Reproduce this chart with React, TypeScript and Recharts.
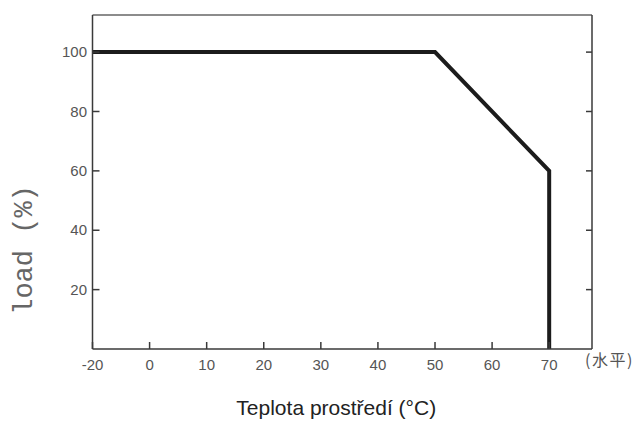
import React from 'react';
import { LineChart, Line, XAxis, YAxis, Label } from 'recharts';

// derating curve: ambient temperature (°C) vs. load (%)
const temperatures = [-20, 50, 70, 70];
const loads = [100, 100, 60, 0];

const xTickTemps = [-20, 0, 10, 20, 30, 40, 50, 60, 70];
const yTicks = [20, 40, 60, 80, 100];

// the axis squeezes -20..0 into one 10-degree step
const toPos = (t: number) => (t < 0 ? t / 2 : t);
const fromPos = (p: number) => (p < 0 ? p * 2 : p);

const data = temperatures.map((t, i) => ({ pos: toPos(t), load: loads[i] }));
const xTicks = xTickTemps.map(toPos);

const axisColor = '#3a3a3a';
const tickFill = '#555';
const sansFont = 'Liberation Sans, Arial, sans-serif';

// ticks point inward, so they are drawn by hand next to the label
const LeftTick = (props: any) => {
  const x = Number(props.x);
  const y = Number(props.y);
  return (
    <g>
      <path d={`M${x + 5.5},${y}H${x + 12.5}`} stroke={axisColor} strokeWidth={1.5} />
      <text x={x} y={y} dy="0.35em" textAnchor="end" fontSize={15} fill={tickFill} fontFamily={sansFont}>
        {props.payload.value}
      </text>
    </g>
  );
};

const BottomTick = (props: any) => {
  const x = Number(props.x);
  const y = Number(props.y);
  return (
    <g>
      <path d={`M${x},${y - 10}V${y - 17}`} stroke={axisColor} strokeWidth={1.5} />
      <text x={x} y={y} dy="0.71em" textAnchor="middle" fontSize={15} fill={tickFill} fontFamily={sansFont}>
        {fromPos(props.payload.value)}
      </text>
    </g>
  );
};

const RightTick = (props: any) => {
  const x = Number(props.x);
  const y = Number(props.y);
  return <path d={`M${x - 6},${y}H${x}`} stroke={axisColor} strokeWidth={1.5} />;
};

export default function App() {
  return (
    <div style={{ position: 'absolute', left: 0, top: 0, background: '#fff' }}>
      <LineChart width={635} height={421} data={data} margin={{ top: 14, right: 42, bottom: 0, left: 0 }}>
        <XAxis
          dataKey="pos"
          type="number"
          domain={[-10, 77.5]}
          ticks={xTicks}
          interval={0}
          allowDataOverflow
          height={72}
          tickSize={0}
          tickMargin={10}
          tick={BottomTick}
          tickLine={false}
          axisLine={{ stroke: axisColor, strokeWidth: 1.5 }}
        >
          <Label
            content={({ viewBox }: any) => (
              <g>
                <text
                  x={viewBox.x + viewBox.width / 2 - 6}
                  y={viewBox.y + 66}
                  textAnchor="middle"
                  fontSize={21}
                  fill="#222"
                  fontFamily={sansFont}
                >
                  Teplota prostředí (°C)
                </text>
                <text
                  x={viewBox.x + viewBox.width - 7}
                  y={viewBox.y + 17}
                  fontSize={16}
                  letterSpacing={1.5}
                  fill={tickFill}
                  fontFamily="Noto Sans CJK SC, sans-serif"
                >
                  (水平)
                </text>
              </g>
            )}
          />
        </XAxis>
        <XAxis
          xAxisId="top"
          orientation="top"
          dataKey="pos"
          type="number"
          domain={[-10, 77.5]}
          allowDataOverflow
          height={1}
          tick={false}
          tickLine={false}
          axisLine={{ stroke: '#666', strokeWidth: 1.5 }}
        />
        <YAxis
          type="number"
          domain={[0, 112.5]}
          ticks={yTicks}
          interval={0}
          allowDataOverflow
          width={92.5}
          tickSize={0}
          tickMargin={5.5}
          tick={LeftTick}
          tickLine={false}
          axisLine={{ stroke: axisColor, strokeWidth: 1.5 }}
        >
          <Label
            content={({ viewBox }: any) => (
              <text
                x={viewBox.x + 32}
                y={viewBox.y + viewBox.height / 2 + 68}
                transform={`rotate(-90, ${viewBox.x + 32}, ${viewBox.y + viewBox.height / 2 + 68})`}
                textAnchor="middle"
                fontSize={27}
                fill="#666"
                fontFamily="Liberation Mono, Courier New, monospace"
              >
                load (%)
              </text>
            )}
          />
        </YAxis>
        <YAxis
          yAxisId="right"
          orientation="right"
          type="number"
          domain={[0, 112.5]}
          ticks={yTicks}
          interval={0}
          allowDataOverflow
          width={1}
          tickSize={0}
          tickMargin={0}
          tick={RightTick}
          tickLine={false}
          axisLine={{ stroke: axisColor, strokeWidth: 1.5 }}
        />
        {/* invisible copy so the frame axes (top/right) get a scale */}
        <Line
          xAxisId="top"
          yAxisId="right"
          dataKey="load"
          stroke="none"
          dot={false}
          activeDot={false}
          legendType="none"
          isAnimationActive={false}
        />
        <Line
          dataKey="load"
          type="linear"
          stroke="#1c1c1c"
          strokeWidth={4}
          dot={false}
          activeDot={false}
          isAnimationActive={false}
        />
      </LineChart>
    </div>
  );
}
